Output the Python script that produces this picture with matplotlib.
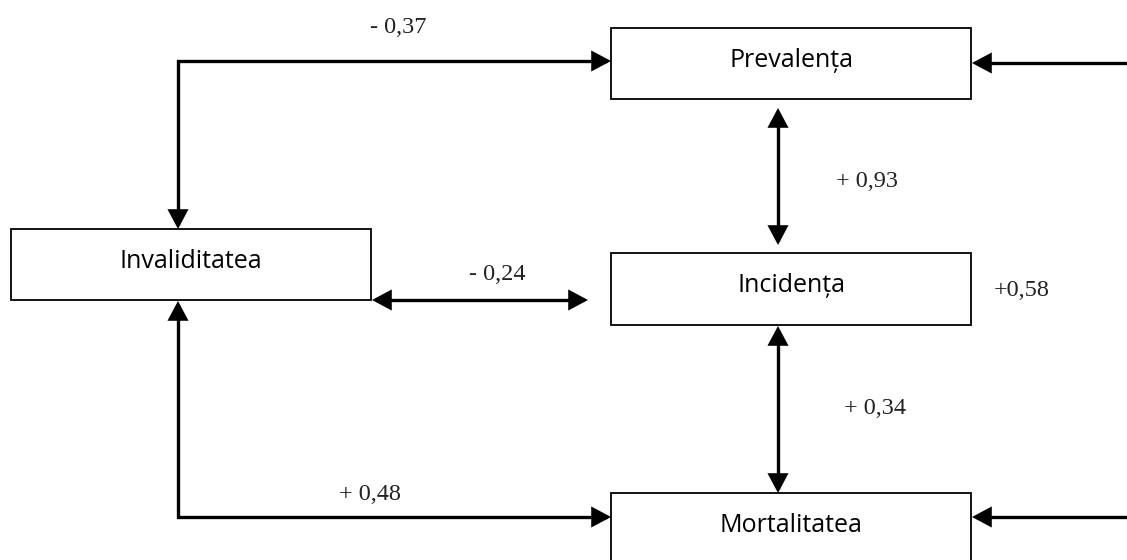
import matplotlib
matplotlib.use("Agg")
import matplotlib.pyplot as plt
from matplotlib.patches import Rectangle, FancyArrowPatch, ArrowStyle
from matplotlib.path import Path

# ---- data ----
node_names = ["Prevalența", "Incidența", "Invaliditatea", "Mortalitatea"]
corr_labels = ["- 0,37", "+ 0,93", "- 0,24", "+0,58", "+ 0,34", "+ 0,48"]

# ---- layout (pixel coordinates, y downward) ----
W, H = 1127, 560
box_geom = {  # left, top, right, bottom
    "Prevalența": (611, 28, 971, 99),
    "Incidența": (611, 253, 971, 325),
    "Invaliditatea": (11, 229, 371, 300),
    "Mortalitatea": (611, 493, 971, 575),
}
label_pos = [(398, 33), (867, 187), (497, 280), (1022, 296), (875, 414), (370, 500)]

fig = plt.figure(figsize=(W / 100, H / 100), dpi=100)
ax = fig.add_axes([0, 0, 1, 1])
ax.set_xlim(0, W)
ax.set_ylim(H, 0)
ax.axis("off")

for name in node_names:
    l, t, r, b = box_geom[name]
    ax.add_patch(Rectangle((l, t), r - l, b - t, facecolor="white",
                           edgecolor="black", linewidth=1.3, zorder=2))
    ax.text((l + r) / 2, t + 39, name, ha="center", va="baseline",
            fontsize=18, family=["Open Sans", "DejaVu Sans"], color="#000000", zorder=3)

for txt, (x, y) in zip(corr_labels, label_pos):
    ax.text(x, y, txt, ha="center", va="baseline", fontsize=17.5,
            family=["Liberation Serif", "DejaVu Serif"], color="#222222", zorder=3)

style_both = ArrowStyle("<|-|>", head_length=10.5, head_width=5.6)
style_end = ArrowStyle("-|>", head_length=10.5, head_width=5.6)


def arrow(verts, style):
    p = Path(verts)
    a = FancyArrowPatch(path=p, arrowstyle=style, mutation_scale=1,
                        color="black", linewidth=2.4, joinstyle="miter",
                        capstyle="butt", zorder=4)
    ax.add_patch(a)


# connections
arrow([(611, 61), (178, 61), (178, 229)], style_both)
arrow([(611, 517), (178, 517), (178, 301)], style_both)
arrow([(372, 300), (588, 300)], style_both)
arrow([(778, 108), (778, 245)], style_both)
arrow([(778, 326), (778, 493)], style_both)
arrow([(1130, 63), (972, 63)], style_end)
arrow([(1130, 517), (972, 517)], style_end)

fig.savefig("out.png", dpi=100, facecolor="white")
